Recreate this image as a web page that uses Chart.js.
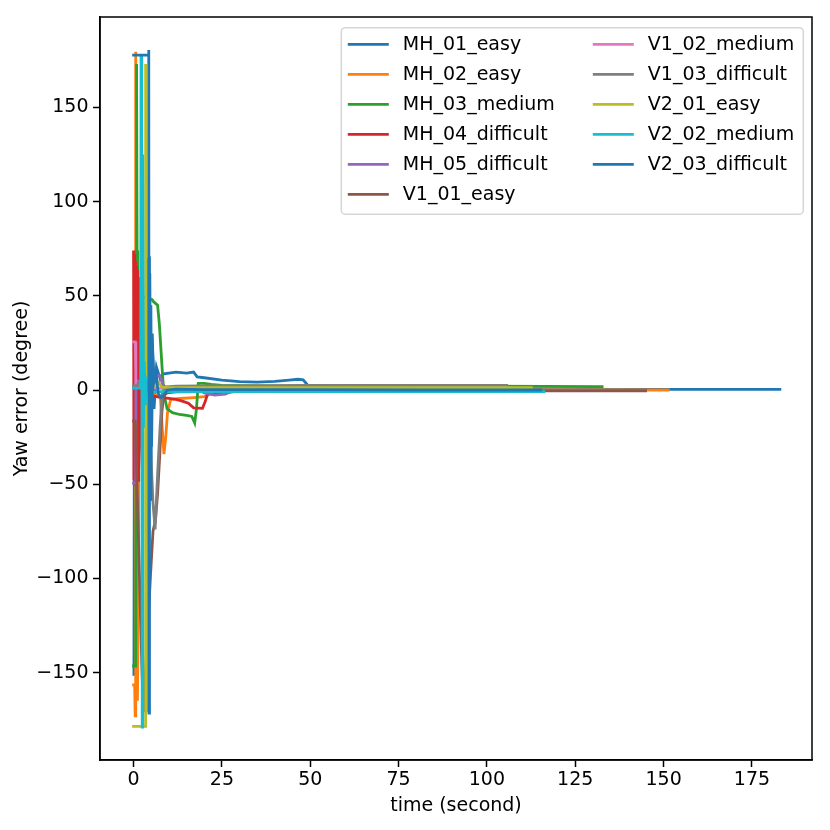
<!DOCTYPE html>
<html>
<head>
<meta charset="utf-8">
<script src="https://cdn.jsdelivr.net/npm/chart.js@4.4.1/dist/chart.umd.min.js"></script>
<style>
  html, body { margin: 0; padding: 0; background: #fff; }
  canvas { display: block; }
</style>
</head>
<body>
<canvas id="yawChart" width="830" height="830"></canvas>
<script>
// tick labels
const xTicks = [0, 25, 50, 75, 100, 125, 150, 175];
const yTicks = [-150, -100, -50, 0, 50, 100, 150];

// sequence names (legend order)
const seqNames = ['MH_01_easy', 'MH_02_easy', 'MH_03_medium', 'MH_04_difficult', 'MH_05_difficult',
    'V1_01_easy', 'V1_02_medium', 'V1_03_difficult', 'V2_01_easy', 'V2_02_medium', 'V2_03_difficult'];

// time (s) and yaw error (deg) per sequence
const mh01T = [-0.3, 0.1, 0.25, 2, 4, 4.6, 4.9, 5.3, 5.8, 6.5, 7.5, 8.2, 10, 12, 15, 17, 18, 20, 25, 30, 35, 40, 44, 46.5, 48, 49.5, 51, 60, 100, 150, 183.3];
const mh01Y = [-151, -151, 8, 8, 9, 62, -45, 30, -10, 12, 6, 8.5, 9, 9.5, 9, 9.5, 7, 6.5, 5.3, 4.5, 4.2, 4.6, 5.3, 5.7, 5.4, 2, 0.5, 0.3, 0.2, 0.3, 0.3];

const mh02T = [-0.4, 0.3, 0.45, 0.55, 0.65, 0.9, 1.1, 1.3, 1.45, 4, 7.6, 8.1, 8.6, 9.1, 9.6, 10.5, 13, 17, 20, 22, 25, 30, 40, 151.7];
const mh02Y = [-156.5, -156.5, -173, 179.6, -172, -85, -165, -120, 0, -1, -4, -20, -34, -25, -12, -5, -4.5, -4, -3.5, -2, -1.8, -0.5, 0, 0];

const mh03T = [-0.4, 0.45, 0.6, 0.75, 0.85, 1.0, 1.2, 1.35, 5.2, 5.6, 6.2, 6.8, 7.3, 7.8, 8.3, 8.8, 9.5, 11, 13, 15, 16.5, 17.3, 17.8, 18.3, 20, 22, 25, 40, 100, 133];
const mh03Y = [-146.5, -146.5, -146, -42, 173, 74, -42, 50, 48, 47, 46, 45, 35, 20, 5, -4, -10, -12, -13, -13.5, -14, -17.5, -10, 3.5, 3.5, 3, 2.5, 2, 2, 1.8];

const mh04T = [0, 0.1, 0.2, 0.3, 0.4, 0.5, 0.6, 0.7, 0.8, 0.9, 1.0, 1.1, 1.2, 1.3, 1.4, 1.5, 1.7, 1.9, 2.1, 2.4, 3, 5, 8, 10, 12, 14, 15.5, 17, 19.5, 20.3, 21, 23, 27, 35, 98];
const mh04Y = [74, -48, 72, -46, 70, -50, 68, -47, 66, -49, 64, -45, 62, -48, 58, -42, -30, 60, -20, 5, -2, -3, -4, -4.5, -5, -6, -7, -9.5, -9.7, -6, -1.8, -1.5, -1, -0.5, -0.3];

const mh05T = [-0.4, 0.5, 0.65, 5.5, 6.5, 7.5, 8.2, 9, 12, 15, 18, 20, 23, 26, 28, 35, 90];
const mh05Y = [-49.5, -49.5, 5, 3, 8, 7.5, 3, 1.5, 1.5, 1.2, 0.5, -1.5, -2.7, -2.2, -0.5, 0, 0];

const v101T = [-0.4, 0.5, 2.4, 2.8, 3.5, 4.2, 4.8, 5.5, 6.2, 6.8, 7.4, 8, 8.5, 9.5, 12, 20, 50, 145.3];
const v101Y = [-16.5, -16.5, -150, -171, -145, -120, -98, -75, -69, -55, -35, -12, -3, -1.5, -1, -0.8, -0.5, -0.4];

const v102T = [-0.4, 0.5, 0.65, 3, 6, 10, 20, 40, 80];
const v102Y = [25.5, 25.5, 3, 2, 1, 0.8, 0.5, 0.3, 0.2];

const v103T = [-0.4, 0.5, 3.2, 3.7, 4.2, 4.8, 5.5, 6.1, 6.8, 7.5, 8.1, 9, 12, 20, 50, 106];
const v103Y = [2.1, 2.1, 5, 70, 40, -30, -60, -74, -45, -20, -2, 1.5, 2, 2.2, 2.4, 2.4];

const v201T = [-0.4, 3.3, 3.42, 3.9, 4.3, 5, 6, 7, 8, 10, 20, 113];
const v201Y = [-178.6, -178.6, 173, -171, 10, 3, 2, 4, 1.5, 1.3, 1.2, 1.2];

const v202T = [-0.4, 2.0, 2.12, 2.3, 2.45, 2.6, 2.8, 3.0, 3.3, 3.7, 4.5, 6, 8, 116.5];
const v202Y = [1, 1, 177.8, 143, -179, 125, -20, 15, -8, 4, -2, -1, -0.9, -0.9];

const v203T = [-0.4, 4.25, 4.3, 4.38, 4.5, 4.7, 4.9, 5.1, 5.4, 5.8, 6.3, 7, 7.8, 8.5, 9.5, 12, 20, 50, 80, 115.6];
const v203Y = [177.8, 177.8, 180.5, -171.5, 71, -58, 45, -30, 20, 5, 10, -2, -4, -3, 0, 0.5, 0.2, 0.2, 0, 0];

const seqTimes = [mh01T, mh02T, mh03T, mh04T, mh05T, v101T, v102T, v103T, v201T, v202T, v203T];
const seqYaw = [mh01Y, mh02Y, mh03Y, mh04Y, mh05Y, v101Y, v102Y, v103Y, v201Y, v202Y, v203Y];

// matplotlib tab10 cycle
const colors = ['#1f77b4', '#ff7f0e', '#2ca02c', '#d62728', '#9467bd', '#8c564b',
    '#e377c2', '#7f7f7f', '#bcbd22', '#17becf', '#1f77b4'];

const FONT = 'DejaVu Sans';
const FSIZE = 19;
Chart.defaults.font.family = FONT;
Chart.defaults.font.size = FSIZE;
Chart.defaults.color = '#000';

function fmtMinus(v) {
    return v < 0 ? '\u2212' + Math.abs(v) : String(v);
}

// frame + legend drawn on top of the lines, like matplotlib
const framePlugin = {
    id: 'frameLegend',
    afterDatasetsDraw(chart) {
        const ctx = chart.ctx;
        const a = chart.chartArea;
        ctx.save();
        ctx.strokeStyle = '#000';
        ctx.lineWidth = 1.5;
        ctx.strokeRect(a.left, a.top, a.right - a.left, a.bottom - a.top);

        // legend box, 2 columns, column-major
        const bw = 462, bh = 186.5;
        const bx = a.right - 8.7 - bw;
        const by = a.top + 10.7;
        ctx.fillStyle = 'rgba(255,255,255,0.8)';
        ctx.strokeStyle = 'rgba(204,204,204,0.8)';
        ctx.lineWidth = 1.5;
        ctx.beginPath();
        ctx.roundRect(bx, by, bw, bh, 4);
        ctx.fill();
        ctx.stroke();

        const rows = 6;
        const colX = [6.5, 251.5];
        ctx.font = FSIZE + 'px "' + FONT + '"';
        ctx.textBaseline = 'middle';
        ctx.textAlign = 'left';
        chart.data.datasets.forEach((ds, i) => {
            const col = Math.floor(i / rows);
            const row = i % rows;
            const x0 = bx + colX[col];
            const y0 = by + 16.6 + row * 30;
            ctx.strokeStyle = ds.borderColor;
            ctx.lineWidth = 2.8;
            ctx.beginPath();
            ctx.moveTo(x0, y0);
            ctx.lineTo(x0 + 41, y0);
            ctx.stroke();
            ctx.fillStyle = '#000';
            ctx.fillText(ds.label, x0 + 55, y0 + 1);
        });
        ctx.restore();
    }
};

const datasets = seqNames.map((name, i) => ({
    label: name,
    data: seqTimes[i].map((t, k) => ({ x: t, y: seqYaw[i][k] })),
    borderColor: colors[i],
    backgroundColor: colors[i],
    borderWidth: 2.8,
    pointRadius: 0,
    tension: 0,
    fill: false,
    clip: 0,
    order: -i
}));

const chart = new Chart(document.getElementById('yawChart').getContext('2d'), {
    type: 'line',
    data: { datasets: datasets },
    options: {
        responsive: false,
        animation: false,
        devicePixelRatio: 1,
        layout: { padding: { top: 17, right: 18, left: 0, bottom: 0 } },
        plugins: {
            legend: { display: false },
            tooltip: { enabled: false }
        },
        scales: {
            x: {
                type: 'linear',
                min: -9.5,
                max: 192,
                afterFit: s => { s.height = 70; },
                afterBuildTicks: s => { s.ticks = xTicks.map(v => ({ value: v })); },
                grid: { drawOnChartArea: false, drawTicks: true, tickLength: 7, tickWidth: 1.5, tickColor: '#000' },
                border: { display: true, color: '#000', width: 1.5 },
                ticks: { padding: 2, maxRotation: 0, autoSkip: false, callback: v => fmtMinus(v) },
                title: { display: true, text: 'time (second)', padding: { top: 0, bottom: 12.4 } }
            },
            y: {
                min: -196.4,
                max: 198,
                afterFit: s => { s.width = 100; },
                afterBuildTicks: s => { s.ticks = yTicks.map(v => ({ value: v })); },
                grid: { drawOnChartArea: false, drawTicks: true, tickLength: 7, tickWidth: 1.5, tickColor: '#000' },
                border: { display: true, color: '#000', width: 1.5 },
                ticks: { padding: 4.5, autoSkip: false, callback: v => fmtMinus(v) },
                title: { display: true, text: 'Yaw error (degree)', padding: { top: 10.6, bottom: 0 } }
            }
        }
    },
    plugins: [framePlugin]
});
</script>
</body>
</html>
